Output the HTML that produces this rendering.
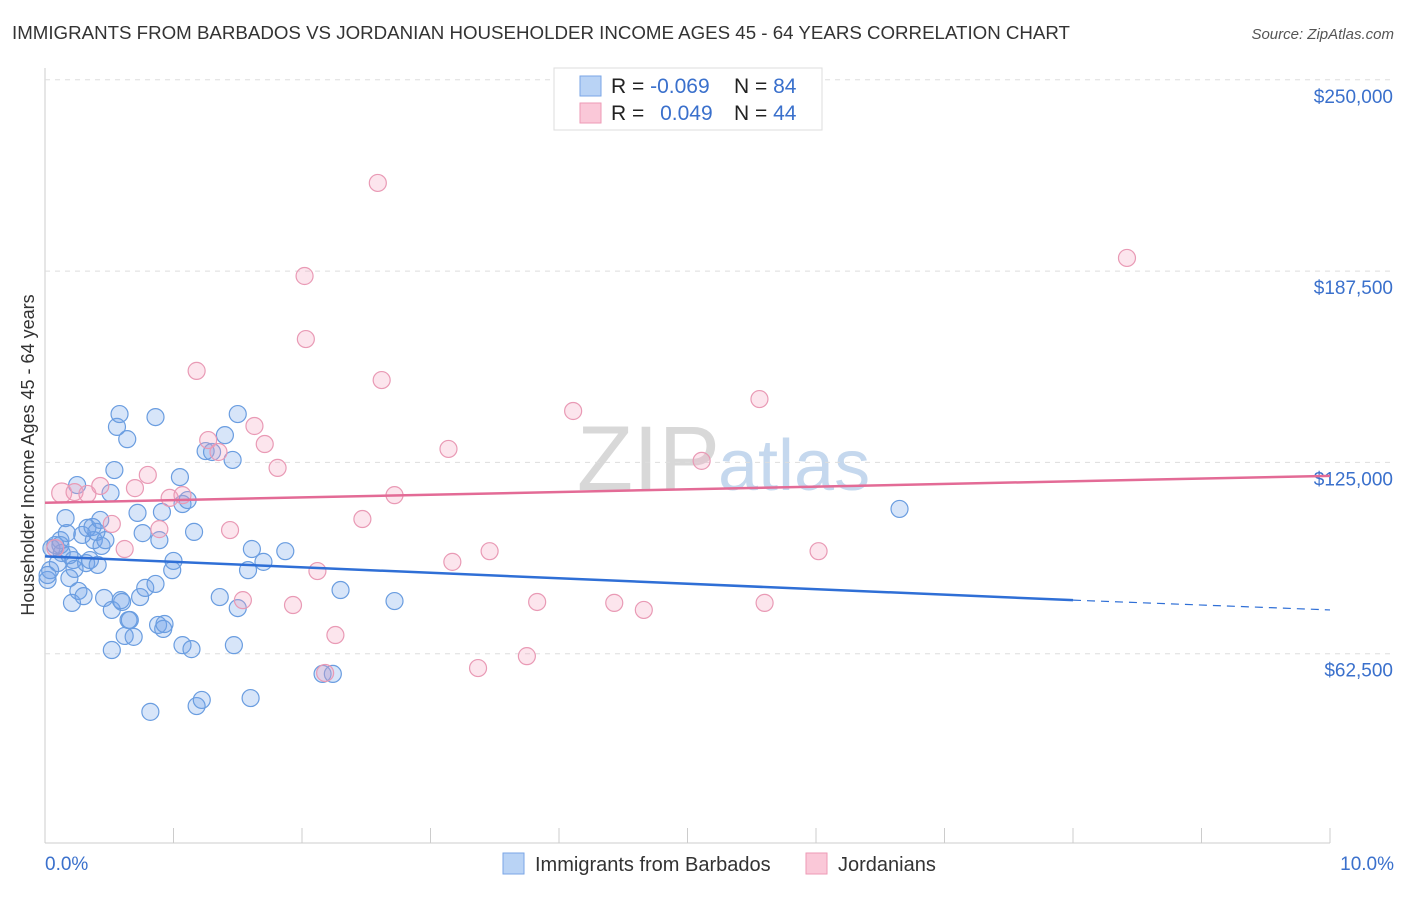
<!DOCTYPE html>
<html><head><meta charset="utf-8"><style>
body{margin:0;background:#fff;font-family:"Liberation Sans",sans-serif;}
svg text{font-family:"Liberation Sans",sans-serif;}
</style></head><body>
<svg id="chart" width="1406" height="892">
<text x="12" y="39" font-size="18.5" fill="#333" textLength="1058" lengthAdjust="spacingAndGlyphs">IMMIGRANTS FROM BARBADOS VS JORDANIAN HOUSEHOLDER INCOME AGES 45 - 64 YEARS CORRELATION CHART</text>
<text x="1394" y="39" font-size="15" fill="#555" font-style="italic" text-anchor="end">Source: ZipAtlas.com</text>
<text x="720" y="490" font-size="92" fill="#d8d8d8" text-anchor="end" font-family="Liberation Serif">ZIP</text>
<text x="718" y="490" font-size="72" fill="#c5d8ee">atlas</text>
<text transform="translate(34,455) rotate(-90)" font-size="18" fill="#333" text-anchor="middle">Householder Income Ages 45 - 64 years</text>
<g id="grid"></g><g id="marks"></g><g id="trends"></g>
<g>
<rect x="554" y="68" width="268" height="62" fill="#fff" stroke="#ddd"/>
<rect x="580" y="76" width="21" height="20" fill="#b9d3f5" stroke="#7aa6e6"/>
<rect x="580" y="103" width="21" height="20" fill="#fac8d8" stroke="#ee9ab6"/>
<text x="611" y="93" font-size="21" fill="#222">R = <tspan fill="#3a70cc">-0.069</tspan></text>
<text x="734" y="93" font-size="21" fill="#222">N = <tspan fill="#3a70cc">84</tspan></text>
<text x="611" y="120" font-size="21" fill="#222">R = <tspan fill="#3a70cc" dx="10">0.049</tspan></text>
<text x="734" y="120" font-size="21" fill="#222">N = <tspan fill="#3a70cc">44</tspan></text>
</g>
<g>
<rect x="503" y="853" width="21" height="21" fill="#b9d3f5" stroke="#7aa6e6"/>
<text x="535" y="871" font-size="20" fill="#333">Immigrants from Barbados</text>
<rect x="806" y="853" width="21" height="21" fill="#fac8d8" stroke="#ee9ab6"/>
<text x="838" y="871" font-size="20" fill="#333">Jordanians</text>
</g>
</svg>
<script>
const yTicks=[62500,125000,187500,250000];
const yTickLabels=["$62,500","$125,000","$187,500","$250,000"];
const xTicks=[0,1,2,3,4,5,6,7,8,9,10];
const xTickLabels=["0.0%","10.0%"];
const blueX=[0.02,0.04,0.05,0.08,0.10,0.12,0.13,0.16,0.17,0.19,0.21,0.22,0.23,0.25,0.26,0.29,0.30,0.32,0.33,0.35,0.37,0.38,0.40,0.41,0.43,0.44,0.46,0.47,0.51,0.52,0.54,0.56,0.58,0.59,0.60,0.62,0.64,0.65,0.66,0.69,0.72,0.74,0.76,0.78,0.82,0.86,0.86,0.88,0.89,0.91,0.92,0.93,0.99,1.00,1.05,1.07,1.07,1.11,1.14,1.16,1.18,1.22,1.25,1.30,1.36,1.40,1.46,1.47,1.50,1.50,1.58,1.60,1.61,1.70,1.87,2.16,2.24,2.30,2.72,6.65,0.52,0.02,0.12,0.19];
const blueY=[86.6,89.8,97.0,98.0,92.1,99.6,95.4,106.8,101.9,87.2,79.1,93.1,90.2,117.6,83.0,101.3,81.3,92.1,103.6,93.1,103.9,99.6,102.3,91.5,106.2,97.7,80.7,99.6,115.0,76.8,122.5,136.6,140.8,80.0,79.4,68.3,132.6,73.5,73.5,68.0,108.5,81.0,101.9,84.0,43.5,85.3,139.8,71.9,99.6,108.8,70.6,72.2,89.8,92.8,120.2,65.3,111.4,112.7,64.0,102.3,45.4,47.4,128.7,128.4,81.0,133.9,125.8,65.3,140.8,77.4,89.8,48.0,96.7,92.5,96.0,55.9,55.9,83.3,79.7,109.8,63.7,88.2,98.0,94.7];
const pinkX=[0.13,0.23,0.33,0.43,0.52,0.62,0.70,0.80,0.89,0.97,1.07,1.18,1.27,1.35,1.44,1.54,1.63,1.71,1.81,1.93,2.02,2.03,2.12,2.18,2.26,2.47,2.59,2.62,2.72,3.14,3.17,3.37,3.46,3.75,3.83,4.11,4.43,4.66,5.11,5.56,5.60,6.02,8.42,0.08];
const pinkY=[115.0,115.3,114.7,117.3,104.9,96.7,116.6,120.9,103.2,113.4,114.3,154.9,132.3,128.4,102.9,80.0,136.9,131.0,123.2,78.4,185.9,165.3,89.5,56.2,68.6,106.5,216.3,151.9,114.3,129.4,92.5,57.8,96.0,61.7,79.4,141.8,79.1,76.8,125.5,145.7,79.1,96.0,191.8,97.0];
const blueTrendX=[0,8,10], blueTrendY=[94.3,80.0,76.8];
const pinkTrendX=[0,10], pinkTrendY=[111.8,120.6];
const NS="http://www.w3.org/2000/svg";
const sx=v=>45+v*128.5;
const sy=v=>845-v/62.5*191.3;
function mk(t,a,p){const e=document.createElementNS(NS,t);for(const k in a)e.setAttribute(k,a[k]);p.appendChild(e);return e;}
const grid=document.getElementById('grid');
mk('line',{x1:45,y1:68,x2:45,y2:843,stroke:'#ccc'},grid);
mk('line',{x1:45,y1:843,x2:1330,y2:843,stroke:'#ccc'},grid);
yTicks.forEach((t,i)=>{const y=sy(t/1000);
const l=mk('line',{x1:45,y1:y,x2:1394,y2:y,stroke:'#ddd','stroke-dasharray':'5,5'},grid);


const tx=mk('text',{x:1393,y:y+23,'font-size':19,fill:'#3a70cc','text-anchor':'end'},grid);tx.textContent=yTickLabels[i];

});
xTicks.forEach(t=>{const l=mk('line',{x1:sx(t),y1:828,x2:sx(t),y2:843,stroke:'#ccc'},grid);

});
const xl0=mk('text',{x:45,y:870,'font-size':19,fill:'#3a70cc'},grid);xl0.textContent=xTickLabels[0];


const xl1=mk('text',{x:1394,y:870,'font-size':19,fill:'#3a70cc','text-anchor':'end'},grid);xl1.textContent=xTickLabels[1];


const marks=document.getElementById('marks');
blueX.forEach((x,i)=>{const c=mk('circle',{cx:sx(x),cy:sy(blueY[i]),r:8.5,fill:'rgba(110,160,235,0.28)',stroke:'#6a9de0','stroke-width':1.2},marks);

});
pinkX.forEach((x,i)=>{const c=mk('circle',{cx:sx(x),cy:sy(pinkY[i]),r:i==0?10:8.5,fill:'rgba(245,160,190,0.28)',stroke:'#e99ab5','stroke-width':1.2},marks);

});
const tr=document.getElementById('trends');
const b1=mk('line',{x1:sx(blueTrendX[0]),y1:sy(blueTrendY[0]),x2:sx(blueTrendX[1]),y2:sy(blueTrendY[1]),stroke:'#2f6fd6','stroke-width':2.5},tr);


const b2=mk('line',{x1:sx(blueTrendX[1]),y1:sy(blueTrendY[1]),x2:sx(blueTrendX[2]),y2:sy(blueTrendY[2]),stroke:'#2f6fd6','stroke-width':1.2,'stroke-dasharray':'8,6'},tr);


const p1=mk('line',{x1:sx(pinkTrendX[0]),y1:sy(pinkTrendY[0]),x2:sx(pinkTrendX[1]),y2:sy(pinkTrendY[1]),stroke:'#e36b96','stroke-width':2.5},tr);


</script>
</body></html>
